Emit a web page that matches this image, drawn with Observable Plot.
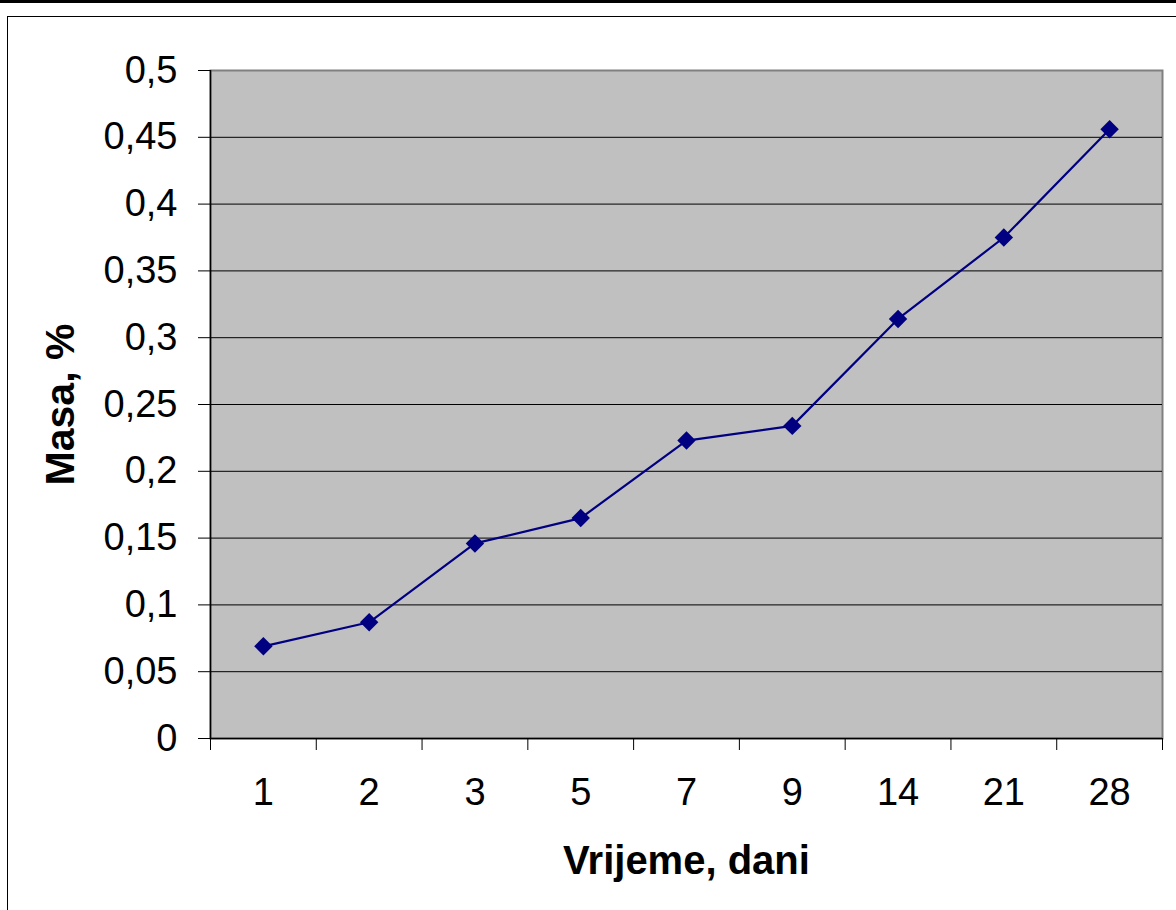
<!DOCTYPE html>
<html>
<head>
<meta charset="utf-8">
<script src="https://cdn.jsdelivr.net/npm/d3@7"></script>
<script src="https://cdn.jsdelivr.net/npm/@observablehq/plot@0.6"></script>
<style>
  html, body { margin: 0; padding: 0; background: #fff; }
  #wrap { position: relative; width: 1176px; height: 910px; overflow: hidden; }
  #topbar { position: absolute; left: 0; top: 0; width: 1176px; height: 3px; background: #000; }
  #box { position: absolute; left: 7px; top: 16px; width: 1200px; height: 1000px; border: 1.5px solid #000; box-sizing: border-box; }
  #chart { position: absolute; left: 0; top: 0; }
</style>
</head>
<body>
<div id="wrap">
  <div id="topbar"></div>
  <div id="box"></div>
  <div id="chart"></div>
</div>
<script>
const days = ["1", "2", "3", "5", "7", "9", "14", "21", "28"];
const masa = [0.069, 0.087, 0.146, 0.165, 0.223, 0.234, 0.314, 0.375, 0.456];
const yTicks = [0, 0.05, 0.1, 0.15, 0.2, 0.25, 0.3, 0.35, 0.4, 0.45, 0.5];
const xTitle = "Vrijeme, dani";
const yTitle = "Masa, %";

const data = days.map((d, i) => ({day: d, idx: i + 0.5, v: masa[i]}));
const fmt = d => String(d).replace(".", ",");

const chart = Plot.plot({
  width: 1176,
  height: 910,
  marginLeft: 210,
  marginRight: 14,
  marginTop: 70,
  marginBottom: 172,
  style: {fontFamily: "'Liberation Sans', Arial, sans-serif", fontSize: "38px", color: "#000", background: "transparent"},
  x: {type: "linear", domain: [0, days.length], axis: null},
  y: {domain: [0, 0.5], axis: null},
  marks: [
    Plot.frame({fill: "#c0c0c0", stroke: "#808080", strokeWidth: 2}),
    Plot.ruleY(yTicks.filter(t => t > 0 && t < 0.5), {stroke: "#000", strokeWidth: 1}),
    Plot.ruleY([0], {stroke: "#000", strokeWidth: 1.5}),
    Plot.ruleX([0], {stroke: "#000", strokeWidth: 1.5}),
    Plot.axisY({ticks: yTicks, tickSize: 12, tickPadding: 21, tickFormat: fmt, stroke: "#000", fontSize: 38, label: null}),
    Plot.axisX({ticks: d3.range(0, days.length + 1), tickSize: 12, tickFormat: () => "", stroke: "#000", label: null}),
    Plot.axisX({ticks: data.map(d => d.idx), tickSize: 0, tickPadding: 40, tickFormat: t => days[Math.floor(t)], fontSize: 38, label: null}),
    Plot.line(data, {x: "idx", y: "v", stroke: "#000080", strokeWidth: 2.2}),
    Plot.dot(data, {x: "idx", y: "v", symbol: "diamond2", r: 8.3, fill: "#000080", stroke: "none"}),
    Plot.text([xTitle], {frameAnchor: "bottom", dy: 135, text: d => d, fontWeight: "bold", fontSize: 40, fill: "#000"}),
    Plot.text([yTitle], {frameAnchor: "left", dx: -150, rotate: -90, textAnchor: "middle", lineAnchor: "middle", text: d => d, fontWeight: "bold", fontSize: 41, fill: "#000"})
  ]
});
document.getElementById("chart").appendChild(chart);
</script>
</body>
</html>
